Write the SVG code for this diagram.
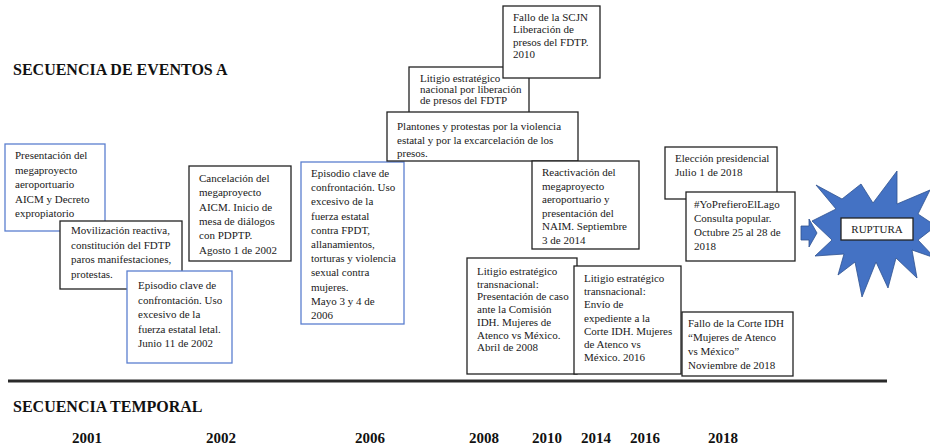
<svg xmlns="http://www.w3.org/2000/svg" width="930" height="447" viewBox="0 0 930 447" font-family="'Liberation Serif', 'DejaVu Serif', serif">
<style>
.bg{fill:#ffffff}
.bx{fill:#ffffff;stroke:#222222;stroke-width:1.3}
.bb{fill:#ffffff;stroke:#5b7fcf;stroke-width:1.3}
.t{font-size:11px;fill:#1a1a1a}
.h{font-size:16px;font-weight:bold;fill:#111111}
.y{font-size:15px;font-weight:bold;fill:#111111;text-anchor:middle}
.blue{fill:#4472c4;stroke:#2f528f;stroke-width:0.8}
</style>
<rect class="bg" x="0" y="0" width="930" height="447"/>
<text class="h" x="13" y="75" font-family="'Liberation Serif', serif">SECUENCIA DE EVENTOS A</text>

<g id="n1" font-family="'Liberation Serif', serif">
<rect class="bb" x="5" y="144" width="100" height="87"/>
<text class="t" x="15" y="159">Presentación del</text>
<text class="t" x="15" y="173.5">megaproyecto</text>
<text class="t" x="15" y="188">aeroportuario</text>
<text class="t" x="15" y="202.5">AICM y Decreto</text>
<text class="t" x="15" y="217">expropiatorio</text>
</g>
<g id="n2" font-family="'Liberation Serif', serif">
<rect class="bx" x="60" y="221" width="122" height="68"/>
<text class="t" x="71" y="234">Movilización reactiva,</text>
<text class="t" x="71" y="248.5">constitución del FDTP</text>
<text class="t" x="71" y="263">paros manifestaciones,</text>
<text class="t" x="71" y="277.5">protestas.</text>
</g>
<g id="n3" font-family="'Liberation Serif', serif">
<rect class="bb" x="127" y="271" width="105" height="92"/>
<text class="t" x="138" y="289">Episodio clave de</text>
<text class="t" x="138" y="303.5">confrontación. Uso</text>
<text class="t" x="138" y="318">excesivo de la</text>
<text class="t" x="138" y="332.5">fuerza estatal letal.</text>
<text class="t" x="138" y="347">Junio 11 de 2002</text>
</g>
<g id="n4" font-family="'Liberation Serif', serif">
<rect class="bx" x="189" y="166" width="102" height="95"/>
<text class="t" x="199" y="182">Cancelación del</text>
<text class="t" x="199" y="196.3">megaproyecto</text>
<text class="t" x="199" y="210.6">AICM. Inicio de</text>
<text class="t" x="199" y="224.9">mesa de diálogos</text>
<text class="t" x="199" y="239.2">con PDPTP.</text>
<text class="t" x="199" y="253.5">Agosto 1 de 2002</text>
</g>
<g id="n5" font-family="'Liberation Serif', serif">
<rect class="bb" x="301" y="162" width="103" height="162"/>
<text class="t" x="311" y="177">Episodio clave de</text>
<text class="t" x="311" y="191.2">confrontación. Uso</text>
<text class="t" x="311" y="205.4">excesivo de la</text>
<text class="t" x="311" y="219.6">fuerza estatal</text>
<text class="t" x="311" y="233.8">contra FPDT,</text>
<text class="t" x="311" y="248">allanamientos,</text>
<text class="t" x="311" y="262.2">torturas y violencia</text>
<text class="t" x="311" y="276.4">sexual contra</text>
<text class="t" x="311" y="290.6">mujeres.</text>
<text class="t" x="311" y="304.8">Mayo 3 y 4 de</text>
<text class="t" x="311" y="319">2006</text>
</g>
<g id="n6" font-family="'Liberation Serif', serif">
<rect class="bx" x="409" y="67" width="120" height="48"/>
<text class="t" x="420" y="81.5">Litigio estratégico</text>
<text class="t" x="420" y="92.5">nacional por liberación</text>
<text class="t" x="420" y="103.5">de presos del FDTP</text>
</g>
<g id="n7" font-family="'Liberation Serif', serif">
<rect class="bx" x="503" y="6" width="97" height="72"/>
<text class="t" x="513" y="21">Fallo de la SCJN</text>
<text class="t" x="513" y="33.3">Liberación de</text>
<text class="t" x="513" y="45.6">presos del FDTP.</text>
<text class="t" x="513" y="57.9">2010</text>
</g>
<g id="n8" font-family="'Liberation Serif', serif">
<rect class="bx" x="387" y="112" width="191" height="49"/>
<text class="t" x="397" y="129.5">Plantones y protestas por la violencia</text>
<text class="t" x="397" y="143.5">estatal y por la excarcelación de los</text>
<text class="t" x="397" y="157">presos.</text>
</g>
<g id="n9" font-family="'Liberation Serif', serif">
<rect class="bx" x="532" y="161" width="107" height="88"/>
<text class="t" x="542" y="176">Reactivación del</text>
<text class="t" x="542" y="189.6">megaproyecto</text>
<text class="t" x="542" y="203.2">aeroportuario y</text>
<text class="t" x="542" y="216.8">presentación del</text>
<text class="t" x="542" y="230.4">NAIM. Septiembre</text>
<text class="t" x="542" y="244">3 de 2014</text>
</g>
<g id="n10" font-family="'Liberation Serif', serif">
<rect class="bx" x="467" y="258" width="110" height="116"/>
<text class="t" x="477" y="275">Litigio estratégico</text>
<text class="t" x="477" y="287.7">transnacional:</text>
<text class="t" x="477" y="300.4">Presentación de caso</text>
<text class="t" x="477" y="313.1">ante la Comisión</text>
<text class="t" x="477" y="325.8">IDH. Mujeres de</text>
<text class="t" x="477" y="338.5">Atenco vs México.</text>
<text class="t" x="477" y="351.2">Abril de 2008</text>
</g>
<g id="n11" font-family="'Liberation Serif', serif">
<rect class="bx" x="574" y="266" width="107" height="108"/>
<text class="t" x="584" y="282">Litigio estratégico</text>
<text class="t" x="584" y="295.2">transnacional:</text>
<text class="t" x="584" y="308.4">Envío de</text>
<text class="t" x="584" y="321.6">expediente a la</text>
<text class="t" x="584" y="334.8">Corte IDH. Mujeres</text>
<text class="t" x="584" y="348">de Atenco vs</text>
<text class="t" x="584" y="361.2">México. 2016</text>
</g>
<g id="n12" font-family="'Liberation Serif', serif">
<rect class="bx" x="665" y="147" width="112" height="52"/>
<text class="t" x="675" y="162">Elección presidencial</text>
<text class="t" x="675" y="176">Julio 1 de 2018</text>
</g>
<g id="n13" font-family="'Liberation Serif', serif">
<rect class="bx" x="686" y="192" width="109" height="69"/>
<text class="t" x="694" y="208">#YoPrefieroElLago</text>
<text class="t" x="694" y="222">Consulta popular.</text>
<text class="t" x="694" y="236">Octubre 25 al 28 de</text>
<text class="t" x="694" y="250">2018</text>
</g>
<g id="n14" font-family="'Liberation Serif', serif">
<rect class="bx" x="682" y="312" width="111" height="64"/>
<text class="t" x="688" y="327">Fallo de la Corte IDH</text>
<text class="t" x="688" y="341">“Mujeres de Atenco</text>
<text class="t" x="688" y="355">vs México”</text>
<text class="t" x="688" y="369">Noviembre de 2018</text>
</g>

<g id="connectors">
<polygon class="blue" points="801,226 809,226 809,219 817,233 809,247 809,240 801,240"/>
</g>

<g id="ruptura" font-family="'Liberation Serif', serif">
<polygon class="blue" points="816,185 842,199 861,184 873,203 897,171 897,204 930,190 918,214 936,226 918,240 935,258 912,250 917,278 896,258 888,288 876,262 862,297 855,262 838,275 844,254 815,256 832,240 812,221 836,209"/>
<rect class="bx" x="841" y="218" width="72" height="22"/>
<text class="t" x="877" y="233" text-anchor="middle">RUPTURA</text>
</g>

<line x1="8" y1="381" x2="887" y2="381" stroke="#2a2a2a" stroke-width="3"/>
<text class="h" x="13" y="412" font-family="'Liberation Serif', serif">SECUENCIA TEMPORAL</text>
<g id="years" font-family="'Liberation Serif', serif">
<text class="y" x="87" y="443">2001</text>
<text class="y" x="221" y="443">2002</text>
<text class="y" x="370" y="443">2006</text>
<text class="y" x="484" y="443">2008</text>
<text class="y" x="547" y="443">2010</text>
<text class="y" x="596" y="443">2014</text>
<text class="y" x="645" y="443">2016</text>
<text class="y" x="723" y="443">2018</text>
</g>
</svg>
